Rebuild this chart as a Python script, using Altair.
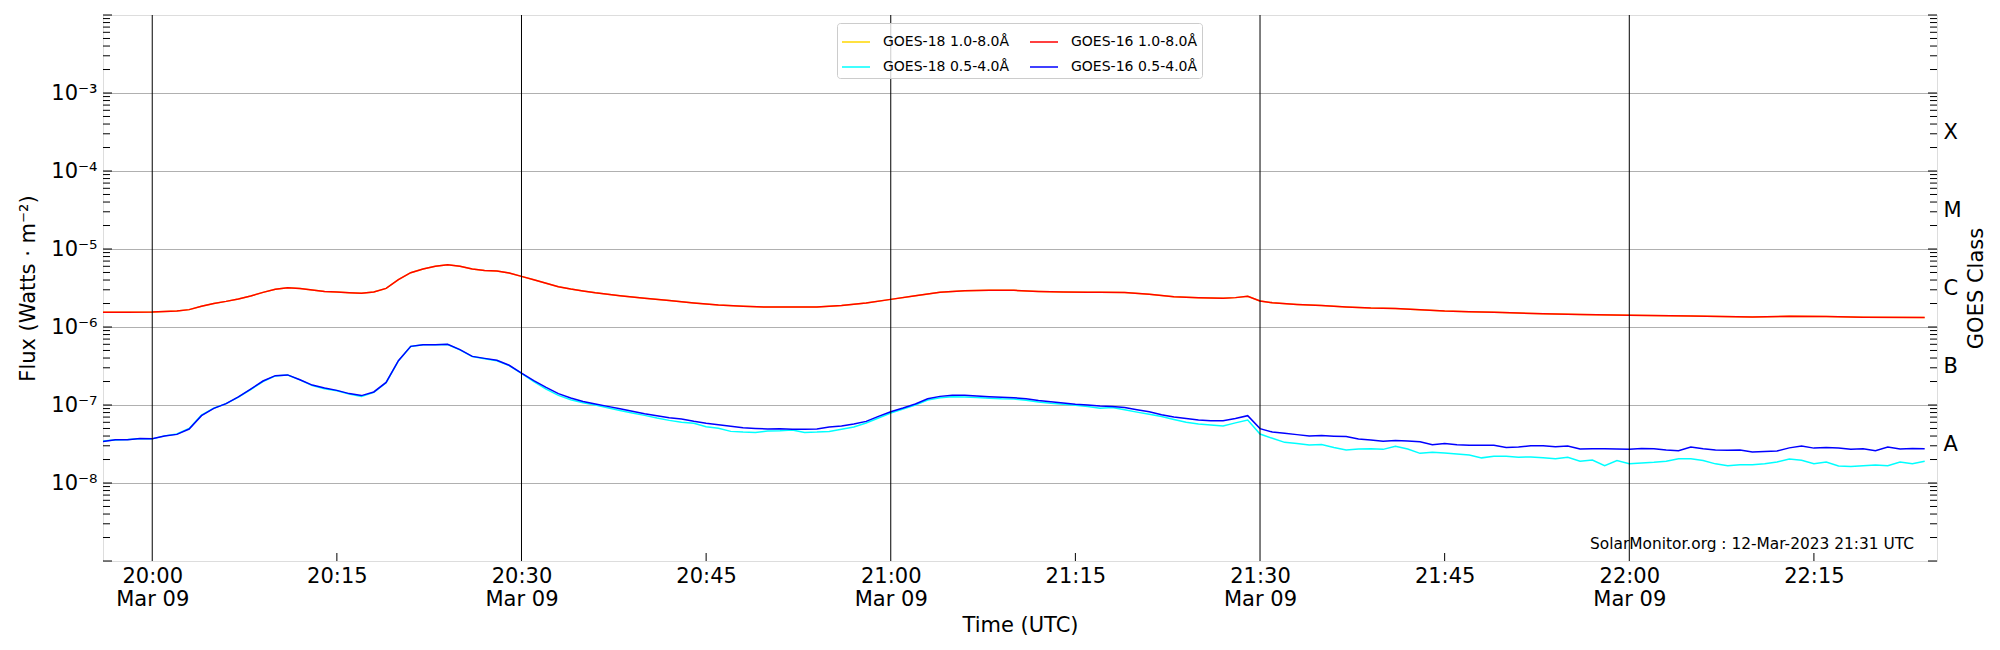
import altair as alt
import pandas as pd

# ---------------- data (minutes relative to 2023-03-09 20:00 UTC) ----------------
g16_long_t = [-4, -2, 0, 2, 3, 4, 5, 6, 7, 8, 9, 10, 11, 12, 13, 14, 15, 16, 17, 18, 19, 20,
              21, 22, 23, 24, 25, 26, 27, 28, 29, 30, 31, 32, 33, 34, 35, 36, 38, 40, 42, 44,
              46, 48, 50, 52, 54, 56, 58, 60, 62, 64, 66, 68, 70, 72, 74, 76, 77, 79, 81, 83,
              85, 87, 88, 89, 90, 91, 93, 95, 97, 99, 101, 103, 105, 107, 109, 111, 113, 116,
              120, 125, 130, 133, 136, 139, 144]
g16_long_v = [1.54e-6, 1.55e-6, 1.56e-6, 1.60e-6,
              1.67e-6, 1.84e-6, 2.00e-6, 2.13e-6, 2.29e-6, 2.50e-6, 2.78e-6, 3.04e-6, 3.19e-6, 3.12e-6,
              2.98e-6, 2.86e-6, 2.81e-6, 2.75e-6, 2.70e-6, 2.81e-6, 3.13e-6, 4.04e-6, 4.97e-6, 5.54e-6,
              6.00e-6, 6.30e-6, 6.00e-6, 5.54e-6, 5.32e-6, 5.22e-6, 4.92e-6, 4.46e-6, 4.04e-6, 3.63e-6,
              3.29e-6, 3.07e-6, 2.90e-6, 2.75e-6,
              2.52e-6, 2.33e-6, 2.18e-6, 2.03e-6, 1.91e-6, 1.84e-6, 1.80e-6, 1.80e-6, 1.80e-6, 1.88e-6,
              2.03e-6, 2.26e-6, 2.52e-6, 2.78e-6, 2.92e-6, 2.95e-6, 2.95e-6, 2.86e-6, 2.81e-6, 2.78e-6,
              2.78e-6, 2.76e-6, 2.62e-6, 2.45e-6, 2.38e-6, 2.33e-6,
              2.38e-6, 2.47e-6, 2.15e-6, 2.05e-6,
              1.95e-6, 1.88e-6, 1.80e-6, 1.75e-6, 1.73e-6, 1.67e-6, 1.60e-6, 1.57e-6, 1.54e-6, 1.51e-6, 1.48e-6,
              1.45e-6, 1.41e-6, 1.38e-6, 1.34e-6, 1.37e-6, 1.36e-6, 1.33e-6, 1.32e-6]

# GOES-18 long channel lies under the GOES-16 one
g18_long_t = list(g16_long_t)
g18_long_v = list(g16_long_v)

short_t = list(range(-4, 145))
g16_short_v = [3.41e-8, 3.59e-8, 3.59e-8, 3.73e-8, 3.70e-8, 4.00e-8, 4.20e-8, 4.92e-8, 7.30e-8, 9.05e-8,
               1.04e-7, 1.27e-7, 1.60e-7, 2.03e-7, 2.38e-7, 2.43e-7, 2.11e-7, 1.80e-7, 1.65e-7, 1.54e-7,
               1.40e-7, 1.32e-7, 1.47e-7, 1.95e-7, 3.70e-7, 5.65e-7, 5.94e-7, 5.94e-7, 5.99e-7, 5.12e-7,
               4.20e-7, 3.96e-7, 3.74e-7, 3.23e-7, 2.57e-7, 2.05e-7, 1.68e-7, 1.40e-7, 1.23e-7, 1.11e-7,
               1.03e-7, 9.60e-8, 8.97e-8, 8.30e-8, 7.74e-8, 7.30e-8, 6.88e-8, 6.60e-8, 6.17e-8, 5.85e-8,
               5.60e-8, 5.35e-8, 5.12e-8, 5.00e-8, 4.92e-8, 4.97e-8, 4.88e-8, 4.90e-8, 4.92e-8, 5.23e-8,
               5.37e-8, 5.70e-8, 6.17e-8, 7.15e-8, 8.20e-8, 9.14e-8, 1.03e-7, 1.20e-7, 1.29e-7, 1.33e-7,
               1.33e-7, 1.30e-7, 1.28e-7, 1.26e-7, 1.24e-7, 1.20e-7, 1.14e-7, 1.10e-7, 1.06e-7, 1.02e-7,
               1.00e-7, 9.70e-8, 9.60e-8, 9.30e-8, 8.70e-8, 8.20e-8, 7.50e-8, 7.00e-8, 6.70e-8, 6.40e-8,
               6.30e-8, 6.30e-8, 6.70e-8, 7.30e-8, 4.98e-8, 4.50e-8, 4.35e-8, 4.17e-8, 4.00e-8, 4.05e-8,
               3.98e-8, 3.94e-8, 3.66e-8, 3.55e-8, 3.42e-8, 3.50e-8, 3.46e-8, 3.38e-8, 3.10e-8, 3.20e-8,
               3.10e-8, 3.05e-8, 3.05e-8, 3.05e-8, 2.86e-8, 2.90e-8, 3.00e-8, 3.00e-8, 2.92e-8, 2.97e-8,
               2.73e-8, 2.75e-8, 2.75e-8, 2.73e-8, 2.70e-8, 2.77e-8, 2.75e-8, 2.65e-8, 2.60e-8, 2.90e-8,
               2.75e-8, 2.65e-8, 2.63e-8, 2.65e-8, 2.49e-8, 2.54e-8, 2.57e-8, 2.82e-8, 2.97e-8, 2.80e-8,
               2.85e-8, 2.80e-8, 2.70e-8, 2.75e-8, 2.60e-8, 2.90e-8, 2.73e-8, 2.77e-8, 2.75e-8]
g18_short_v = [3.45e-8, 3.57e-8, 3.60e-8, 3.70e-8, 3.68e-8, 4.02e-8, 4.25e-8, 5.00e-8, 7.40e-8, 9.10e-8,
               1.04e-7, 1.26e-7, 1.58e-7, 2.00e-7, 2.36e-7, 2.42e-7, 2.10e-7, 1.77e-7, 1.62e-7, 1.52e-7,
               1.38e-7, 1.29e-7, 1.45e-7, 1.93e-7, 3.68e-7, 5.62e-7, 5.90e-7, 5.92e-7, 5.96e-7, 5.10e-7,
               4.18e-7, 3.93e-7, 3.70e-7, 3.20e-7, 2.55e-7, 2.00e-7, 1.60e-7, 1.33e-7, 1.17e-7, 1.07e-7,
               1.00e-7, 9.20e-8, 8.50e-8, 7.90e-8, 7.36e-8, 6.80e-8, 6.35e-8, 6.00e-8, 5.82e-8, 5.27e-8,
               5.02e-8, 4.59e-8, 4.50e-8, 4.45e-8, 4.63e-8, 4.68e-8, 4.78e-8, 4.45e-8, 4.50e-8, 4.59e-8,
               4.88e-8, 5.23e-8, 5.87e-8, 6.80e-8, 7.90e-8, 8.90e-8, 1.00e-7, 1.16e-7, 1.24e-7, 1.28e-7,
               1.27e-7, 1.25e-7, 1.22e-7, 1.20e-7, 1.19e-7, 1.15e-7, 1.09e-7, 1.05e-7, 1.02e-7, 9.90e-8,
               9.60e-8, 9.10e-8, 9.30e-8, 8.70e-8, 8.10e-8, 7.60e-8, 7.10e-8, 6.50e-8, 6.00e-8, 5.70e-8,
               5.55e-8, 5.40e-8, 5.90e-8, 6.40e-8, 4.25e-8, 3.74e-8, 3.32e-8, 3.22e-8, 3.07e-8, 3.12e-8,
               2.86e-8, 2.65e-8, 2.73e-8, 2.75e-8, 2.70e-8, 2.95e-8, 2.73e-8, 2.40e-8, 2.47e-8, 2.42e-8,
               2.35e-8, 2.29e-8, 2.10e-8, 2.20e-8, 2.20e-8, 2.14e-8, 2.16e-8, 2.10e-8, 2.05e-8, 2.14e-8,
               1.90e-8, 1.97e-8, 1.67e-8, 1.94e-8, 1.77e-8, 1.80e-8, 1.84e-8, 1.90e-8, 2.05e-8, 2.05e-8,
               1.94e-8, 1.76e-8, 1.67e-8, 1.72e-8, 1.72e-8, 1.77e-8, 1.86e-8, 2.03e-8, 1.96e-8, 1.77e-8,
               1.86e-8, 1.65e-8, 1.63e-8, 1.66e-8, 1.70e-8, 1.67e-8, 1.86e-8, 1.77e-8, 1.90e-8]

S18L = "GOES-18 1.0-8.0Å"
S18S = "GOES-18 0.5-4.0Å"
S16L = "GOES-16 1.0-8.0Å"
S16S = "GOES-16 0.5-4.0Å"
legend_order = [S18L, S18S, S16L, S16S]
legend_colors = ["#ffd700", "#00ffff", "#ff0000", "#0000ff"]

# axis texts
x_tick_times = ["20:00", "20:15", "20:30", "20:45", "21:00", "21:15", "21:30",
                "21:45", "22:00", "22:15"]
x_major_times = ["20:00", "20:30", "21:00", "21:30", "22:00"]
x_minor_times = ["20:15", "20:45", "21:15", "21:45", "22:15"]
y_label_values = [1e-8, 1e-7, 1e-6, 1e-5, 1e-4, 1e-3]
y_labels = ["10⁻⁸", "10⁻⁷", "10⁻⁶", "10⁻⁵", "10⁻⁴", "10⁻³"]
class_values = [10 ** -7.5, 10 ** -6.5, 10 ** -5.5, 10 ** -4.5, 10 ** -3.5]
class_labels = ["A", "B", "C", "M", "X"]
decade_exps = [-9, -8, -7, -6, -5, -4, -3, -2]
watermark = "SolarMonitor.org : 12-Mar-2023 21:31 UTC"

# ---------------- build tables ----------------
def stamp(m):
    tot = 20 * 60 + m
    return f"2023-03-09T{tot // 60:02d}:{tot % 60:02d}:00Z"

def hm(s):
    return f"2023-03-09T{s}:00Z"

rows = []
for name, ts, vs in [(S18L, g18_long_t, g18_long_v), (S18S, short_t, g18_short_v),
                     (S16L, g16_long_t, g16_long_v), (S16S, short_t, g16_short_v)]:
    assert len(ts) == len(vs), name
    for t, v in zip(ts, vs):
        rows.append({"series": name, "time": stamp(t), "flux": v})
df = pd.DataFrame(rows)

major_ticks = pd.DataFrame({"v": [10.0 ** e for e in decade_exps]})
minor_ticks = pd.DataFrame({"v": [m * 10.0 ** e for e in decade_exps[:-1] for m in range(2, 10)]})
df_major = pd.DataFrame({"time": [hm(s) for s in x_major_times]})
df_minor = pd.DataFrame({"time": [hm(s) for s in x_minor_times]})

W, H = 1834, 546
FONT = "DejaVu Sans"
FS = 21

def dt(s):
    h, m = s.split(":")
    return alt.DateTime(year=2023, month=3, date=9, hours=int(h), minutes=int(m), utc=True)

xscale = alt.Scale(type="utc", domain=[dt("19:56"), dt("22:25")])
yscale = alt.Scale(type="log", domain=[1e-9, 1e-2], nice=False)

ylab_expr = "[" + ",".join(f"'{s}'" for s in y_labels) + "][round(log(datum.value)/LN10)+8]"
class_expr = "[" + ",".join(f"'{s}'" for s in class_labels) + "][round(log(datum.value)/LN10+7.5)]"
xlab_expr = ("utcminutes(datum.value) % 30 == 0 ? [utcFormat(datum.value, '%H:%M'), "
             "utcFormat(datum.value, '%b %d')] : utcFormat(datum.value, '%H:%M')")

x_axis = alt.Axis(values=[dt(s) for s in x_tick_times], labelExpr=xlab_expr, title="Time (UTC)",
                  ticks=False, domain=False, grid=False, labelFontSize=FS, labelPadding=4,
                  labelLineHeight=23, labelFlush=False, labelOverlap=False, labelColor="black",
                  titleFontSize=FS, titleFontWeight="normal", titleColor="black", titlePadding=5,
                  labelFont=FONT, titleFont=FONT)

y_axis = alt.Axis(values=y_label_values, labelExpr=ylab_expr, title="Flux (Watts · m⁻²)",
                  grid=True, gridColor="#b0b0b0", gridWidth=1, ticks=False, domain=False,
                  labelFontSize=FS, labelPadding=6, labelOverlap=False, labelColor="black",
                  titleFontSize=FS, titleFontWeight="normal", titleColor="black", titlePadding=12,
                  labelFont=FONT, titleFont=FONT)

r_axis = alt.Axis(orient="right", values=class_values, labelExpr=class_expr, title="GOES Class",
                  grid=False, ticks=False, domain=False, labelFontSize=FS, labelPadding=6,
                  labelOverlap=False, labelColor="black", titleFontSize=FS, titleFontWeight="normal",
                  titleColor="black", titlePadding=25, titleAngle=270, labelFont=FONT, titleFont=FONT)

vlines = alt.Chart(df_major).mark_rule(color="black", strokeWidth=1).encode(
    x=alt.X("time:T", scale=xscale))

xminor = alt.Chart(df_minor).mark_rule(color="black", strokeWidth=1).encode(
    x=alt.X("time:T", scale=xscale), y=alt.value(H - 8), y2=alt.value(H))

lines = alt.Chart(df).mark_line(strokeWidth=1.5, clip=True).encode(
    x=alt.X("time:T", scale=xscale, axis=x_axis),
    y=alt.Y("flux:Q", scale=yscale, axis=y_axis),
    color=alt.Color("series:N", sort=legend_order,
                    scale=alt.Scale(domain=legend_order, range=legend_colors),
                    legend=alt.Legend(title=None, orient="none", legendX=734, legendY=8, columns=2,
                                      symbolType="stroke", symbolSize=784, symbolStrokeWidth=1.5,
                                      labelFontSize=14, labelFont=FONT, labelColor="black",
                                      labelOffset=12, columnPadding=17, rowPadding=3, padding=4,
                                      strokeColor="#cccccc", fillColor="rgba(255,255,255,0.8)",
                                      cornerRadius=3)),
)

def ticks(data, x0, x1, axis=None):
    return alt.Chart(data).mark_rule(color="black", strokeWidth=1).encode(
        y=alt.Y("v:Q", scale=yscale, axis=axis), x=alt.value(x0), x2=alt.value(x1))

lt_major = ticks(major_ticks, 0, 9)
lt_minor = ticks(minor_ticks, 0, 7)
rt_major = ticks(major_ticks, W - 9, W)
rt_minor = ticks(minor_ticks, W - 7, W, axis=r_axis)

wm = alt.Chart(pd.DataFrame({"t": [watermark]})).mark_text(
    align="right", baseline="alphabetic", fontSize=15.4, font=FONT, color="black").encode(
    text="t:N", x=alt.value(1811), y=alt.value(534))

chart = alt.layer(lines, vlines, xminor, lt_major, lt_minor, rt_major, rt_minor, wm).resolve_scale(
    y="independent").properties(
    width=W, height=H,
    autosize=alt.AutoSizeParams(type="none"),
    padding={"left": 95, "top": 7, "right": 55, "bottom": 81},
    background="white",
).configure_view(stroke="black", strokeWidth=1.3).configure(font=FONT)

chart.save("out.html", embed_options={"renderer": "svg", "actions": False})
